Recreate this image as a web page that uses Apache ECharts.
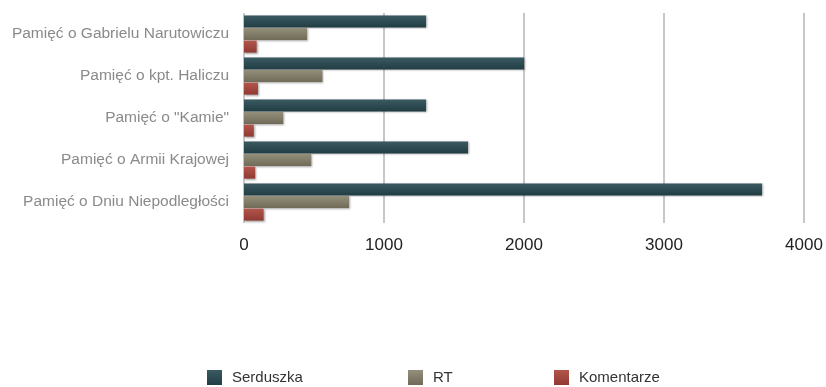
<!DOCTYPE html>
<html>
<head>
<meta charset="utf-8">
<script src="https://cdn.jsdelivr.net/npm/echarts@6/dist/echarts.min.js"></script>
<style>
  html, body { margin: 0; padding: 0; background: #fff; }
  #main { width: 826px; height: 387px; }
</style>
</head>
<body>
<div id="main"></div>
<script>
// dane
var categories = ['Pamięć o Gabrielu Narutowiczu', 'Pamięć o kpt. Haliczu', 'Pamięć o "Kamie"', 'Pamięć o Armii Krajowej', 'Pamięć o Dniu Niepodległości'];
var serduszka = [1300, 2000, 1300, 1600, 3700];
var rt = [450, 560, 280, 480, 750];
var komentarze = [90, 100, 70, 80, 140];
var xTicks = [0, 1000, 2000, 3000, 4000];
var seriesNames = ['Serduszka', 'RT', 'Komentarze'];

var myChart = echarts.init(document.getElementById('main'));

function barStyle(c1, c2) {
  return {
    color: new echarts.graphic.LinearGradient(0, 0, 0, 1, [
      {offset: 0, color: c1}, {offset: 1, color: c2}
    ]),
    shadowColor: 'rgba(0,0,0,0.35)',
    shadowBlur: 2,
    shadowOffsetX: 1,
    shadowOffsetY: 1
  };
}

// legenda - trzy osobne, rozstawione jak w oryginale
var legendLeft = [207, 408, 554];
var legends = seriesNames.map(function (name, i) {
  return {
    top: 370,
    left: legendLeft[i],
    padding: 0,
    itemWidth: 15,
    itemHeight: 15,
    icon: 'rect',
    textStyle: { color: '#333', fontSize: 15, fontFamily: 'Liberation Sans', padding: [0, 0, 0, 5] },
    data: [name]
  };
});

myChart.setOption({
  backgroundColor: '#fff',
  animation: false,
  grid: { left: 244, right: 22, top: 13, bottom: 164 },
  legend: legends,
  xAxis: {
    type: 'value',
    min: xTicks[0],
    max: xTicks[xTicks.length - 1],
    interval: 1000,
    axisLine: { show: false },
    axisTick: { show: false },
    splitLine: { show: true, lineStyle: { color: '#b5b5b5', width: 1.5 } },
    axisLabel: { color: '#222', fontSize: 17, margin: 14, fontFamily: 'Liberation Sans',
      formatter: function (v) { return String(v); } }
  },
  yAxis: {
    type: 'category',
    inverse: true,
    data: categories,
    axisLine: { show: false },
    axisTick: { show: false },
    axisLabel: { color: '#8a8a8a', fontSize: 15.5, margin: 15, fontFamily: 'Liberation Sans' }
  },
  series: [
    { name: seriesNames[0], type: 'bar', data: serduszka, barWidth: 12, barGap: '5%',
      itemStyle: barStyle('#3a5a62', '#223d44') },
    { name: seriesNames[1], type: 'bar', data: rt, barWidth: 12, barGap: '5%',
      itemStyle: barStyle('#948f7a', '#6f6b58') },
    { name: seriesNames[2], type: 'bar', data: komentarze, barWidth: 12, barGap: '5%',
      itemStyle: barStyle('#b4554b', '#8f3a33') }
  ]
});
</script>
</body>
</html>
